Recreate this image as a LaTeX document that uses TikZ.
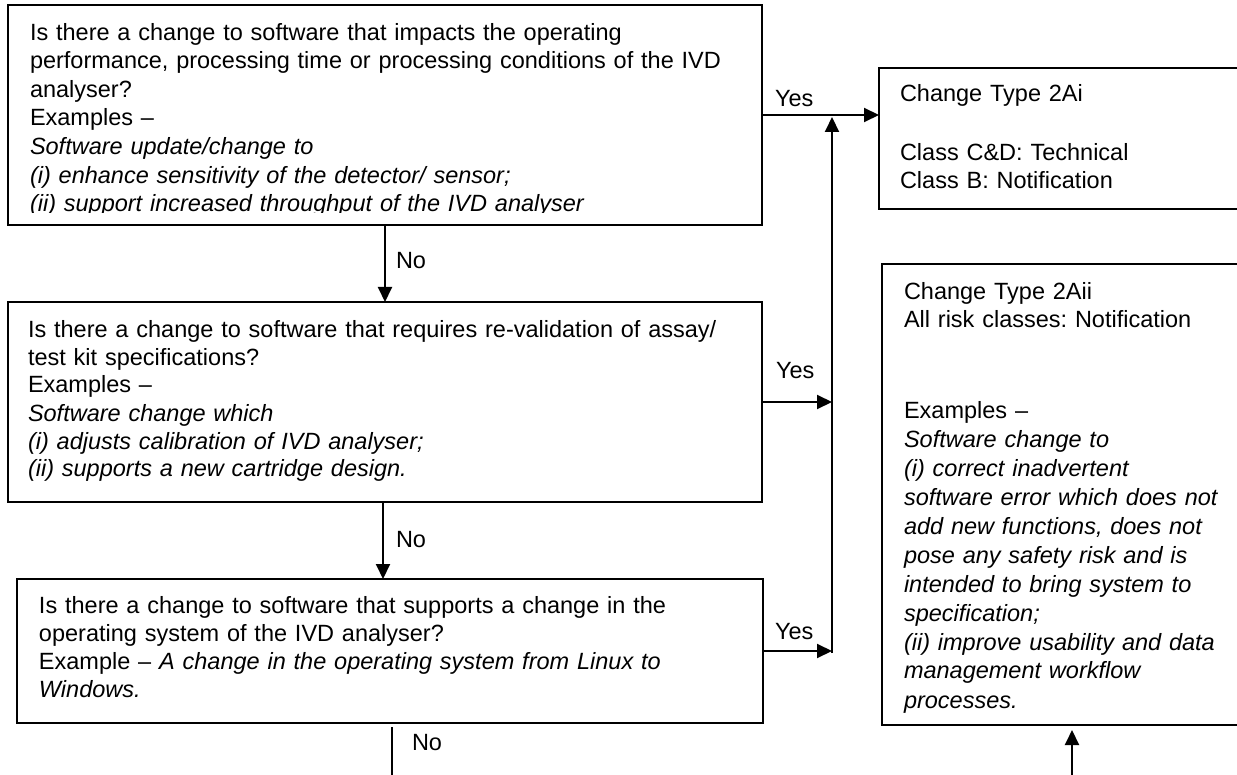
\documentclass[tikz,border=0pt]{standalone}
\usepackage{fontspec}
\setmainfont{Liberation Sans}
\usetikzlibrary{arrows.meta}
\frenchspacing
\begin{document}
\begin{tikzpicture}[x=0.5pt,y=-0.5pt,
  box/.style={draw,line width=0.8pt,inner sep=0pt,outer sep=0pt,rectangle},
  txt/.style={anchor=north west,inner sep=0pt,outer sep=0pt,align=left,font=\fontsize{11.75pt}{14pt}\selectfont\frenchspacing},
  lbl/.style={anchor=base west,inner sep=0pt,outer sep=0pt,font=\fontsize{11.75pt}{14pt}\selectfont},
  conn/.style={line width=1pt},
  arr/.style={conn,-{Triangle[length=7.5pt,width=7pt]}}]
\useasboundingbox (0,0) rectangle (1237,775);
\clip (0,0) rectangle (1237,775);

% boxes
\node[box,minimum width=377pt,minimum height=110pt] (q1) at (385,115) {};
\node[box,minimum width=377pt,minimum height=100pt] (q2) at (385,402) {};
\node[box,minimum width=373pt,minimum height=72pt] (q3) at (390,651) {};
\node[box,minimum width=191.5pt,minimum height=70.5pt] (r1) at (1070.5,138.5) {};
\node[box,minimum width=190pt,minimum height=230.5pt] (r2) at (1072,494.5) {};

% texts
\begin{scope}
\clip (8,5) rectangle (762,212.5);
\node[txt,text width=365pt,font=\fontsize{11.75pt}{14.3pt}\selectfont\frenchspacing] (t1) at (30,20) {\strut Is there a change to software that impacts the operating\\
performance, processing time or processing conditions of the IVD\\
analyser?\\
Examples --\\
\itshape Software update/change to\\
(i) enhance sensitivity of the detector/ sensor;\\
(ii) support increased throughput of the IVD analyser};
\end{scope}

\node[txt,text width=365pt] (t2) at (28,317.4) {\strut Is there a change to software that requires re-validation of assay/\\
test kit specifications?\\
Examples --\\
\itshape Software change which\\
(i) adjusts calibration of IVD analyser;\\
(ii) supports a new cartridge design.};

\node[txt,text width=360pt] (t3) at (39,593.4) {\strut Is there a change to software that supports a change in the\\
operating system of the IVD analyser?\\
Example -- \textit{A change in the operating system from Linux to}\\
\textit{Windows.}};

\node[txt,text width=180pt] (t4) at (900,82.4) {\strut Change Type 2Ai\\[15.5pt]
Class C\&D: Technical\\
Class B: Notification};

\node[txt,text width=180pt] (t5) at (904,280.4) {\strut Change Type 2Aii\\
All risk classes: Notification};

\node[txt,text width=180pt,font=\fontsize{11.75pt}{14.5pt}\selectfont\frenchspacing] (t6) at (904,397.7) {\strut Examples --\\
\itshape Software change to\\
(i) correct inadvertent\\
software error which does not\\
add new functions, does not\\
pose any safety risk and is\\
intended to bring system to\\
specification;\\
(ii) improve usability and data\\
management workflow\\
processes.};

% junctions
\coordinate (j1) at (832,117);
\coordinate (j2) at (832,402);
\coordinate (j3) at (832,653);
\coordinate (e1) at (392,775);
\coordinate (e2) at (1072,775);

% connectors
\draw[arr] (q1.east) -- (q1.east -| r1.west);
\draw[arr] (q2.east) -- (j2);
\draw[arr] (q3.east) -- (q3.east -| j3);
\draw[arr] (j3) -- (j1);
\draw[arr] (q1.south) -- (q1.south |- q2.north);
\draw[arr] ([xshift=-1pt]q2.south) -- ([xshift=-1pt]q2.south |- q3.north);
\draw[conn,shorten <=2pt] (e1 |- q3.south) -- (e1);
\draw[arr,shorten >=2.5pt] (e2) -- (e2 |- r2.south);

% labels
\node[lbl] (y1) at (775,107) {Yes};
\node[lbl] (y2) at (776,379) {Yes};
\node[lbl] (y3) at (775,639) {Yes};
\node[lbl] (n1) at (396,268.5) {No};
\node[lbl] (n2) at (396,547) {No};
\node[lbl] (n3) at (412,750) {No};
\end{tikzpicture}
\end{document}
